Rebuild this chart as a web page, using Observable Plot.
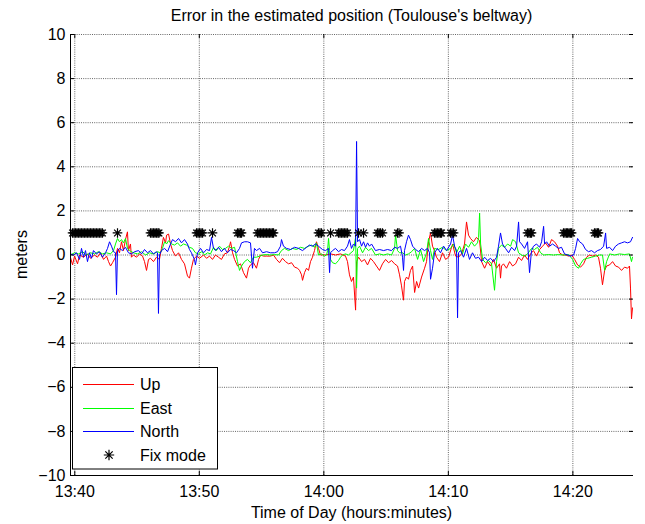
<!DOCTYPE html>
<html><head><meta charset="utf-8">
<script src="https://cdn.jsdelivr.net/npm/d3@7"></script>
<script src="https://cdn.jsdelivr.net/npm/@observablehq/plot@0.6"></script>
<style>
body{margin:0;background:#fff;}
svg{font-family:"Liberation Sans",Arial,sans-serif;}
</style>
</head><body><div id="chart"></div>
<script>
// ---- data (time in minutes after 13:40, value in meters) ----
const title = "Error in the estimated position (Toulouse's beltway)";
const xLabel = "Time of Day (hours:minutes)";
const yLabel = "meters";
const seriesNames = ["Up", "East", "North", "Fix mode"];
const xTickLabels = ["13:40", "13:50", "14:00", "14:10", "14:20"];
const yTicks = [-10, -8, -6, -4, -2, 0, 2, 4, 6, 8, 10];
const xRange = [-0.345, 44.87];
const yRange = [-10, 10];

const upT = [-0.35,-0.18,-0.02,0.22,0.38,0.70,1.02,1.26,1.58,1.82,
2.06,2.31,2.55,2.71,2.87,3.03,3.27,3.43,3.59,3.75,
3.91,4.07,4.23,4.31,4.47,4.55,4.71,4.96,5.20,5.44,
5.60,5.76,5.92,6.08,6.32,6.56,6.80,6.96,7.12,7.29,
7.37,7.53,7.69,7.85,8.09,8.33,8.57,8.81,9.05,9.21,
9.37,9.53,9.78,10.02,10.34,10.58,10.82,11.06,11.30,11.54,
11.78,12.02,12.26,12.43,12.51,12.67,12.83,13.07,13.31,13.55,
13.79,13.95,14.11,14.35,14.59,14.76,14.92,15.16,15.40,15.72,
15.96,16.20,16.44,16.68,16.92,17.17,17.41,17.65,17.89,18.05,
18.21,18.29,18.45,18.61,18.77,18.93,19.09,19.25,19.41,19.57,
19.73,20.14,20.54,20.94,21.34,21.74,21.90,22.06,22.22,22.38,
22.55,22.63,22.79,23.03,23.27,23.51,23.75,23.99,24.23,24.47,
24.71,24.96,25.20,25.44,25.68,25.92,26.08,26.24,26.40,26.48,
26.64,26.80,26.96,27.13,27.29,27.45,27.61,27.85,28.09,28.25,
28.41,28.57,28.73,28.89,29.05,29.29,29.53,29.78,30.02,30.34,
30.58,30.82,31.06,31.30,31.46,31.62,31.78,32.02,32.26,32.51,
32.67,32.91,33.15,33.39,33.63,33.87,34.11,34.19,34.27,34.43,
34.67,34.92,35.16,35.40,35.64,35.88,36.12,36.36,36.60,36.84,
37.08,37.33,37.57,37.81,38.05,38.29,38.53,38.77,38.93,39.17,
39.41,39.66,39.90,40.14,40.38,40.62,40.86,41.10,41.34,41.58,
41.82,42.06,42.22,42.38,42.55,42.71,42.95,43.19,43.43,43.67,
43.91,44.15,44.39,44.55,44.63,44.71,44.79];
const upV = [-0.1,-0.45,-0.05,-0.4,0,-0.1,0.05,-0.15,0,-0.1,
0.1,-0.2,-0.05,-0.3,-0.5,-0.35,-0.1,0.3,0.1,0.6,
0.2,0.7,1.05,0.2,0.5,-0.1,0,-0.1,0.05,-0.05,
-0.3,-0.7,-0.2,-0.15,-0.3,-0.1,-0.2,0.3,0.8,0.55,
0.9,0.95,0.5,0.2,-0.05,0.1,-0.2,-0.4,-0.95,-1.05,
-0.6,-0.2,-0.05,-0.15,0,-0.15,-0.05,-0.2,0,-0.1,
-0.2,0.05,0.1,0.4,0.6,0.1,-0.2,-0.5,-0.4,-0.8,
-1.05,-0.6,-0.45,-0.35,-0.6,-0.2,0,-0.05,-0.05,-0.05,
0,-0.2,-0.35,-0.15,-0.3,-0.4,-0.35,-0.55,-0.6,-0.7,
-0.9,-1.15,-0.8,-0.6,-0.7,-0.3,-0.1,0.2,0.6,0.3,
0,0,0.05,0,0.05,-0.05,-0.3,-0.9,-1.2,-1.0,
-2.5,-0.3,-0.1,-0.3,-0.2,-0.45,-0.15,-0.3,-0.5,-0.7,
-0.4,-0.2,-0.35,-0.25,-0.4,-0.5,-0.9,-1.4,-2.05,-1.2,
-1.0,-1.1,-0.7,-0.5,-1.7,-1.2,-1.5,-1.0,-0.6,-0.3,
0.6,1.0,0.4,0.2,-0.1,-0.3,0.1,-0.2,-0.1,0.5,
-0.05,-0.1,0.05,0.5,1.5,0.9,0.75,0.6,0.8,0.65,
-0.3,-0.6,-0.3,-0.5,-0.2,-0.6,-0.4,-1.05,-0.5,-0.4,
-0.6,-0.3,-0.5,-0.4,-0.1,-0.25,0,-0.2,0.05,0.2,
-0.05,0.25,0.4,0.55,0.35,0.7,0.6,0.4,0.1,0,
0,-0.05,0,-0.2,-0.45,-0.55,-0.4,-0.1,0,-0.05,
0,-0.1,-0.6,-1.35,-0.7,-0.5,-0.45,-0.3,-0.5,-0.55,
-0.7,-0.55,-0.6,-0.5,-1.5,-2.9,-2.4];

const eastT = [-0.35,-0.02,0.30,0.62,0.94,1.26,1.58,1.90,2.22,2.55,
2.87,3.11,3.27,3.43,3.59,3.75,3.91,4.07,4.23,4.39,
4.71,5.04,5.36,5.68,6.00,6.32,6.64,6.88,7.04,7.21,
7.37,7.53,7.77,8.01,8.25,8.49,8.73,8.97,9.21,9.45,
9.69,9.94,10.18,10.42,10.66,10.90,11.14,11.38,11.62,11.86,
12.10,12.35,12.59,12.83,13.07,13.23,13.39,13.63,13.87,14.11,
14.35,14.59,14.84,15.08,15.40,15.72,16.04,16.36,16.60,16.84,
17.17,17.49,17.81,18.13,18.45,18.77,19.01,19.25,19.41,19.57,
19.81,20.05,20.22,20.30,20.38,20.46,20.54,20.70,20.94,21.18,
21.34,21.50,21.74,21.98,22.38,22.55,22.63,22.71,22.87,23.11,
23.35,23.59,23.83,24.15,24.47,24.80,25.12,25.44,25.68,25.76,
25.92,26.08,26.32,26.56,26.80,27.05,27.29,27.53,27.77,28.01,
28.25,28.41,28.57,28.73,28.89,29.21,29.53,29.86,30.18,30.42,
30.66,30.90,31.14,31.38,31.62,31.86,32.10,32.34,32.43,32.51,
32.59,32.75,32.99,33.23,33.47,33.71,33.87,34.03,34.27,34.51,
34.76,35.00,35.16,35.40,35.64,35.88,36.12,36.36,36.68,36.92,
37.16,37.41,37.65,38.05,38.45,38.85,39.25,39.66,39.98,40.22,
40.46,40.62,40.86,41.18,41.50,41.82,42.14,42.38,42.55,42.71,
42.95,43.35,43.75,44.15,44.55,44.71,44.79];
const eastV = [0,0.1,0.05,0.15,0,0.1,0.05,0.15,0.05,0.1,
0.05,0.2,0.5,0.75,0.6,0.7,0.55,0.75,0.3,0.2,
0.1,0.05,0.15,0,0.1,0.05,0.15,0.1,0.3,0.6,
0.5,0.65,0.5,0.45,0.55,0.4,0.5,0.45,0.35,0.3,
0.1,0.05,0.15,0,0.1,0.05,0.35,0.2,0.4,0.25,
0.3,0.4,0.3,0.35,-0.3,-0.7,-0.5,-0.3,-0.2,-0.35,
-0.1,-0.1,-0.05,0,0.02,0,0.02,0,0.2,0.3,
0.2,0.3,0.25,0.35,0.3,0.4,0.45,0.35,0.55,0,
0.05,-0.05,0,0.2,0.75,0.2,-0.2,-0.35,-0.4,-0.25,
-0.1,0,0.05,0,0.2,0.8,-1.5,0.3,0.4,0.1,
0.35,0.2,0.3,0,0.05,0,0.05,0,0.3,0.9,
0.2,0.1,0.1,0,0.05,0.15,0.3,-0.2,0.25,-0.3,
0.1,0.75,0.2,-0.2,0.3,0.25,0.35,0.2,0.3,0.5,
0.1,0.4,0.05,0.5,0.35,0.6,0.4,0.55,0.8,1.9,
0.5,-0.2,-0.35,-0.25,-0.4,-1.6,-0.3,0.3,0.45,0.35,
0.5,0.4,0.7,0.6,0.1,0,-0.05,0.05,0.3,0.25,
0.35,0.1,0,0.02,0,0.02,0,0.02,-0.2,-0.5,
-0.6,-0.4,-0.2,-0.15,-0.1,-0.05,0,0,-0.7,-0.3,
0.05,0,0.05,0.02,0.05,-0.3,-0.1];

const northT = [-0.35,-0.10,0.14,0.38,0.54,0.70,0.86,1.02,1.18,1.34,
1.50,1.74,1.98,2.22,2.47,2.63,2.79,2.95,3.11,3.27,
3.35,3.43,3.59,3.83,4.07,4.31,4.55,4.80,5.12,5.36,
5.60,5.84,6.08,6.32,6.56,6.64,6.72,6.80,6.96,7.21,
7.45,7.69,7.85,8.09,8.33,8.57,8.81,9.05,9.21,9.37,
9.61,9.69,9.86,10.10,10.34,10.58,10.82,10.98,11.14,11.30,
11.54,11.78,12.02,12.26,12.51,12.75,12.99,13.23,13.39,13.63,
13.87,14.11,14.27,14.43,14.59,14.84,15.08,15.40,15.72,16.04,
16.28,16.52,16.60,16.76,17.00,17.33,17.65,17.97,18.29,18.61,
18.85,19.09,19.33,19.57,19.89,20.14,20.38,20.46,20.54,20.70,
20.94,21.18,21.42,21.66,21.90,22.06,22.22,22.38,22.55,22.63,
22.71,22.87,23.03,23.19,23.35,23.51,23.67,23.83,24.15,24.47,
24.80,25.12,25.44,25.68,25.92,26.16,26.32,26.40,26.48,26.64,
26.80,26.96,27.13,27.37,27.61,27.85,28.09,28.33,28.49,28.57,
28.73,28.89,29.13,29.37,29.62,29.86,30.18,30.34,30.50,30.66,
30.74,30.82,30.98,31.22,31.46,31.70,31.94,32.18,32.43,32.67,
32.91,33.15,33.39,33.63,33.87,34.03,34.19,34.35,34.59,34.84,
35.08,35.32,35.48,35.64,35.72,35.88,36.12,36.36,36.52,36.68,
36.84,37.08,37.33,37.49,37.65,37.73,37.89,38.13,38.37,38.61,
38.85,39.09,39.33,39.58,39.82,40.06,40.22,40.38,40.54,40.78,
41.02,41.26,41.50,41.74,41.98,42.22,42.47,42.63,42.71,42.95,
43.19,43.43,43.67,43.91,44.15,44.39,44.63,44.79];
const northV = [0.05,0,0.1,-0.2,0.3,-0.1,0.2,-0.3,0.1,-0.15,
0.2,0.05,0.15,-0.1,0.1,0.3,0.6,0.4,0.15,0.1,
-1.8,0.2,0.3,0.2,0.35,0.1,0.05,0.15,0.2,0.05,
0.25,0.1,0.2,0.05,0.15,0.1,-2.65,0,0.2,0.3,
0.15,0.5,0.7,0.6,0.75,0.55,0.7,0.5,0.25,0.1,
-0.2,-0.45,0.1,0.3,0.1,0.25,0.2,0.8,0.3,0.2,
0.35,0.15,0.3,0.1,0.25,0.2,0.1,0.3,0.55,0.6,
0.6,0.55,-0.6,0.3,0.2,0.3,0.1,0.15,0.1,0.1,
0.15,0.4,0.7,0.4,0.3,0.25,0.35,0.3,0.2,0.35,
0.45,0.4,0.5,0.4,0.25,0.2,0.3,-0.8,0.1,0.2,
0.3,0.15,0.25,0.2,0.4,0.7,0.3,0.5,0.4,5.15,
0.6,0.7,0.4,0.6,0.35,0.55,0.4,0.5,0.2,0.25,
0.2,0.25,0.2,0.35,0.3,0.4,-0.1,-0.7,0.2,0.6,
0.9,0.7,0.4,0.25,0.15,0.3,0.2,0.3,0.1,-1.1,
-0.6,0.1,0.3,0.1,0.4,0.2,0.5,0.9,0.4,0.2,
-2.85,0.1,0.2,-0.1,0.3,-0.2,0.1,-0.15,-0.1,-0.3,
-0.1,-0.25,-0.15,-0.3,-0.1,0.4,1.0,0.5,0.3,0.1,
0.35,0.2,0.4,1.5,0.6,0.5,0.3,0.6,-0.8,0.2,
0.4,0.5,0.35,0.6,1.3,0.5,0.6,0.4,0.5,0.4,
0.3,0.35,0.05,0,-0.05,0,0.3,0.75,0.6,0.5,
0.25,0.15,0.2,0.1,0.2,0.25,0.4,1.0,0.3,0.35,
0.2,0.4,0.5,0.55,0.6,0.55,0.6,0.8];

// times at which the receiver was in fix mode (plotted at level 1)
const fixT = [-0.18,-0.06,0.06,0.18,0.30,0.42,0.54,0.66,0.78,0.90,1.02,1.14,1.26,1.38,1.50,1.62,1.74,1.86,1.98,2.10,2.22,3.43,
6.08,6.20,6.32,6.44,6.56,6.68,6.76,
9.78,9.90,10.02,10.14,10.26,11.06,
13.07,13.19,13.31,13.39,
14.68,14.80,14.92,15.04,15.16,15.28,15.40,15.52,15.64,15.76,15.88,15.96,
19.57,19.69,19.81,20.54,21.18,21.30,21.42,21.54,21.66,21.78,21.90,22.79,23.19,
24.31,24.43,24.55,24.71,
25.92,26.04,
28.89,29.01,29.13,29.25,29.37,29.45,30.18,30.30,30.42,
36.36,36.48,36.60,36.68,
39.25,39.37,39.49,39.58,39.70,39.82,39.90,
41.74,41.86,41.98,42.06];
const fixLevel = 1;

const colors = ["#ff0000", "#00ff00", "#0000ff", "#000000"];

// ---- helpers ----
const parseHM = d3.timeParse("%H:%M");
const base = parseHM(xTickLabels[0]);
const toDate = m => new Date(+base + m * 60000);
const xTickDates = xTickLabels.map(parseHM);
const mk = (T, V) => T.map((t, i) => ({t: toDate(t), v: V[i]}));
const upData = mk(upT, upV), eastData = mk(eastT, eastV), northData = mk(northT, northV);
const fixData = fixT.map(t => ({t: toDate(t), v: fixLevel}));

// MATLAB-like '*' marker (plus + cross)
const star = {
  draw(ctx, size) {
    const r = Math.sqrt(size / Math.PI), d = r * Math.SQRT1_2;
    ctx.moveTo(-r, 0); ctx.lineTo(r, 0);
    ctx.moveTo(0, -r); ctx.lineTo(0, r);
    ctx.moveTo(-d, -d); ctx.lineTo(d, d);
    ctx.moveTo(-d, d); ctx.lineTo(d, -d);
  }
};

const W = 645, H = 524, mT = 34, mB = 49, mL = 70, mR = 12;
const fw = W - mL - mR, fh = H - mT - mB;
const gridStyle = {stroke: "#000", strokeOpacity: 0.6, strokeDasharray: "1,1.2", strokeWidth: 1};

const svg = Plot.plot({
  width: W, height: H,
  marginTop: mT, marginBottom: mB, marginLeft: mL, marginRight: mR,
  style: {fontFamily: '"Liberation Sans", Arial, sans-serif', fontSize: "16px", background: "#fff", color: "#000"},
  x: {type: "time", domain: xRange.map(toDate)},
  y: {domain: yRange},
  marks: [
    Plot.ruleX(xTickDates, {...gridStyle}),
    Plot.ruleY(yTicks, {...gridStyle}),
    Plot.line(upData, {x: "t", y: "v", stroke: colors[0], strokeWidth: 1, clip: true}),
    Plot.line(eastData, {x: "t", y: "v", stroke: colors[1], strokeWidth: 1, clip: true}),
    Plot.line(northData, {x: "t", y: "v", stroke: colors[2], strokeWidth: 1, clip: true}),
    Plot.dot(fixData, {x: "t", y: "v", symbol: star, r: 4.8, stroke: colors[3], fill: "none", strokeWidth: 1.2}),
    // inward tick marks
    Plot.ruleX(xTickDates, {stroke: "#000", insetTop: fh - 4}),
    Plot.ruleX(xTickDates, {stroke: "#000", insetBottom: fh - 4}),
    Plot.ruleY(yTicks, {stroke: "#000", insetRight: fw - 4}),
    Plot.ruleY(yTicks, {stroke: "#000", insetLeft: fw - 4}),
    // axis lines
    Plot.ruleX([toDate(xRange[0])], {stroke: "#000"}),
    Plot.ruleY([yRange[0]], {stroke: "#000"}),
    Plot.axisX(xTickDates, {tickFormat: d3.timeFormat("%H:%M"), tickSize: 0, tickPadding: 10, label: null, fontSize: 16}),
    Plot.axisY(yTicks, {tickSize: 0, tickPadding: 5, label: null, fontSize: 16})
  ]
});

const s = d3.select(svg);
const font = '"Liberation Sans", Arial, sans-serif';
s.append("text").attr("x", mL + fw / 2).attr("y", 21).attr("text-anchor", "middle")
  .attr("font-size", 16).attr("font-family", font).attr("fill", "#000").text(title);
s.append("text").attr("x", mL + fw / 2).attr("y", 518).attr("text-anchor", "middle")
  .attr("font-size", 16).attr("font-family", font).attr("fill", "#000").text(xLabel);
s.append("text").attr("transform", "translate(26.5," + (mT + fh / 2) + ") rotate(-90)").attr("text-anchor", "middle")
  .attr("font-size", 16).attr("font-family", font).attr("fill", "#000").text(yLabel);

// legend
const lg = s.append("g");
lg.append("rect").attr("x", 72.5).attr("y", 367.5).attr("width", 145).attr("height", 101.5)
  .attr("fill", "#fff").attr("stroke", "#000").attr("stroke-width", 1);
const rowsY = [384, 408, 431, 455];
seriesNames.forEach((name, i) => {
  const y = rowsY[i];
  if (i < 3) {
    lg.append("line").attr("x1", 83).attr("x2", 134).attr("y1", y + 0.5).attr("y2", y + 0.5)
      .attr("stroke", colors[i]).attr("stroke-width", 1);
  } else {
    lg.append("path").attr("d", d3.symbol(star, Math.PI * 5.2 * 5.2)())
      .attr("transform", "translate(109," + y + ")").attr("stroke", "#000").attr("fill", "none").attr("stroke-width", 1.2);
  }
  lg.append("text").attr("x", 140).attr("y", y + 6).attr("text-anchor", "start").attr("font-size", 16).attr("font-family", font)
    .attr("fill", "#000").text(name);
});

document.getElementById("chart").appendChild(svg);
</script>
</body></html>
